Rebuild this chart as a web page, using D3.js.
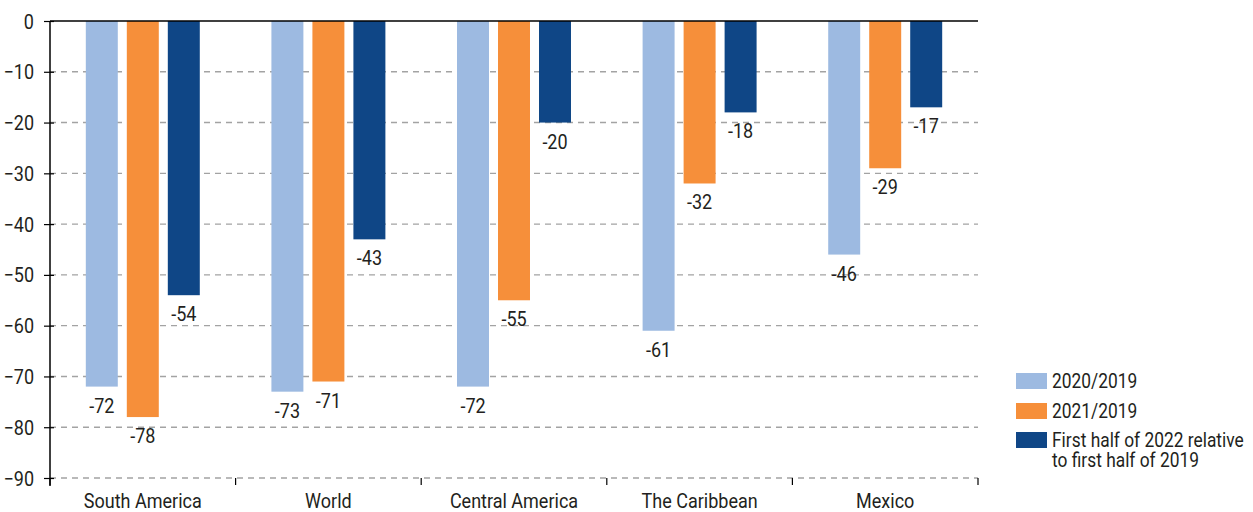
<!DOCTYPE html>
<html>
<head>
<meta charset="utf-8">
<script src="https://cdn.jsdelivr.net/npm/d3@7"></script>
<style>
  html, body { margin: 0; padding: 0; background: #fff; }
  svg text { font-family: "Roboto", "Liberation Sans", sans-serif; fill: #231f20; }
</style>
</head>
<body>
<svg id="chart" width="1253" height="512"></svg>
<script>
// Change in international tourist arrivals, per cent
const categories = ["South America", "World", "Central America", "The Caribbean", "Mexico"];
const seriesNames = ["2020/2019", "2021/2019", "First half of 2022 relative to first half of 2019"];
const values2020 = [-72, -73, -72, -61, -46];
const values2021 = [-78, -71, -55, -32, -29];
const valuesH1_2022 = [-54, -43, -20, -18, -17];
const yTicks = [0, -10, -20, -30, -40, -50, -60, -70, -80, -90];
const colors = ["#9dbae1", "#f68f3a", "#0f4686"];

const seriesValues = [values2020, values2021, valuesH1_2022];

const svg = d3.select("#chart");
const plotLeft = 50, plotRight = 978, plotTop = 21, plotBottom = 478;
const fontSize = 20;

// Narrow the glyphs to give a condensed face
function condense(sel, factor = 0.9) {
  sel.each(function () {
    const w = this.getComputedTextLength();
    d3.select(this).attr("textLength", w * factor).attr("lengthAdjust", "spacingAndGlyphs");
  });
}

const x0 = d3.scaleBand().domain(categories).range([plotLeft, plotRight]).paddingInner(0).paddingOuter(0);
const groupWidth = 123;
const x1 = d3.scaleBand().domain(d3.range(seriesNames.length))
  .range([-groupWidth / 2, groupWidth / 2]).paddingInner(0.22).paddingOuter(0.11);
const y = d3.scaleLinear().domain([-90, 0]).range([plotBottom, plotTop]);

// Dashed gridlines
svg.append("g")
  .selectAll("line")
  .data(yTicks.filter(t => t !== 0))
  .join("line")
  .attr("x1", plotLeft).attr("x2", plotRight)
  .attr("y1", d => y(d)).attr("y2", d => y(d))
  .attr("stroke", "#a3a3a3")
  .attr("stroke-width", 1.4)
  .attr("stroke-dasharray", "6,5");

// Bars
const rows = categories.map((c, i) => ({ cat: c, vals: seriesValues.map(s => s[i]) }));
const groups = svg.append("g").selectAll("g")
  .data(rows)
  .join("g")
  .attr("transform", d => `translate(${x0(d.cat) + x0.bandwidth() / 2},0)`);

groups.selectAll("rect")
  .data(d => d.vals.map((v, k) => ({ v, k })))
  .join("rect")
  .attr("x", d => x1(d.k))
  .attr("width", x1.bandwidth())
  .attr("y", y(0))
  .attr("height", d => y(d.v) - y(0))
  .attr("fill", d => colors[d.k]);

// Value labels
groups.selectAll("text")
  .data(d => d.vals.map((v, k) => ({ v, k })))
  .join("text")
  .attr("x", d => x1(d.k) + x1.bandwidth() / 2)
  .attr("y", d => y(d.v) + 26)
  .attr("text-anchor", "middle")
  .attr("font-size", fontSize)
  .text(d => d.v)
  .call(condense);

// Y axis
const yAxis = svg.append("g")
  .attr("transform", `translate(${plotLeft},0)`)
  .call(d3.axisLeft(y).tickValues(yTicks).tickSize(0).tickPadding(16).tickFormat(d3.format("d")));
yAxis.select(".domain").remove();
yAxis.selectAll("text").attr("font-size", fontSize).attr("dy", "0.35em").call(condense);
yAxis.selectAll(".tick").append("line")
  .attr("x1", -6).attr("x2", 4)
  .attr("stroke", "#000").attr("stroke-width", 1.2);
svg.append("line")
  .attr("x1", plotLeft).attr("x2", plotLeft)
  .attr("y1", plotTop).attr("y2", plotBottom + 8)
  .attr("stroke", "#000").attr("stroke-width", 1.5);

// Category axis along the bottom with ticks at group boundaries
const boundaries = categories.map(c => x0(c)).concat([plotRight]);
svg.append("g").selectAll("line")
  .data(boundaries)
  .join("line")
  .attr("x1", d => d).attr("x2", d => d)
  .attr("y1", plotBottom).attr("y2", plotBottom + 7)
  .attr("stroke", "#000").attr("stroke-width", 1.2);
svg.append("g").selectAll("text")
  .data(categories)
  .join("text")
  .attr("x", d => x0(d) + x0.bandwidth() / 2)
  .attr("y", 508)
  .attr("text-anchor", "middle")
  .attr("font-size", fontSize)
  .text(d => d)
  .call(condense);

// Zero line
svg.append("line")
  .attr("x1", plotLeft).attr("x2", plotRight)
  .attr("y1", y(0)).attr("y2", y(0))
  .attr("stroke", "#000").attr("stroke-width", 1.5);

// Legend
const legendLines = [["2020/2019"], ["2021/2019"], ["First half of 2022 relative", "to first half of 2019"]];
const legendY = [373, 403, 432];
const legend = svg.append("g").selectAll("g")
  .data(seriesNames)
  .join("g")
  .attr("transform", (d, i) => `translate(1016,${legendY[i]})`);
legend.append("rect")
  .attr("width", 31).attr("height", 16)
  .attr("fill", (d, i) => colors[i]);
legend.selectAll("text")
  .data((d, i) => legendLines[i])
  .join("text")
  .attr("x", 36)
  .attr("y", (d, j) => 15 + j * 20)
  .attr("font-size", 19.5)
  .text(d => d)
  .call(condense, 0.89);
</script>
</body>
</html>
